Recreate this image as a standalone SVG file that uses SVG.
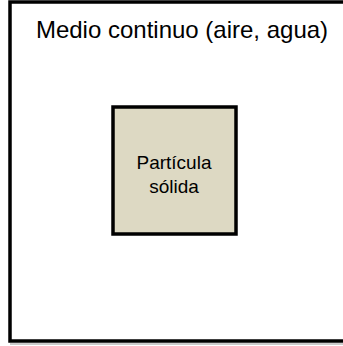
<svg xmlns="http://www.w3.org/2000/svg" width="343" height="346" viewBox="0 0 343 346">
<style>
.box{stroke:#000;stroke-width:3.5}
.t{font-family:"Liberation Sans",Arial,sans-serif;fill:#000;text-anchor:middle}
</style>
<rect width="343" height="346" fill="#fff"/>
<g id="medio">
<line x1="10" y1="344" x2="343" y2="344" stroke="#bbb" stroke-width="1.5"/>
<rect class="box" x="10" y="2" width="345" height="339" fill="#fff"/>
<text class="t" x="182" y="38" font-size="24">Medio continuo (aire, agua)</text>
</g>
<g id="particula">
<rect class="box" x="113" y="107" width="123" height="127" fill="#ddd9c3"/>
<text class="t" x="174" y="169" font-size="19">Partícula</text>
<text class="t" x="174" y="193" font-size="19">sólida</text>
</g>
<g id="connectors"/>
</svg>
